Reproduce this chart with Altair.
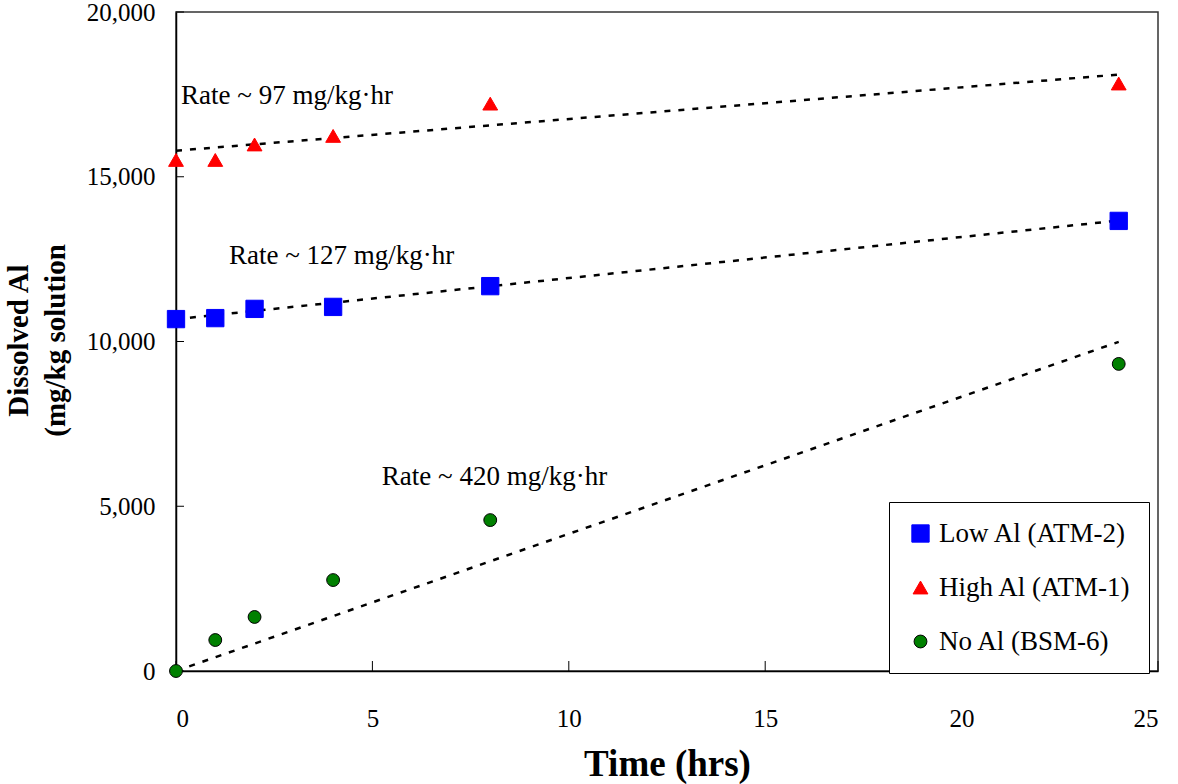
import altair as alt
import pandas as pd

# ---- data ----
hours = [0, 1, 2, 4, 8, 24]
low_al = [10680, 10710, 10990, 11050, 11680, 13660]
high_al = [15510, 15510, 15980, 16240, 17220, 17830]
no_al = [0, 940, 1640, 2760, 4580, 9320]

series_names = ["Low Al (ATM-2)", "High Al (ATM-1)", "No Al (BSM-6)"]
series_colors = ["#0000FF", "#FF0000", "#008000"]
series_strokes = ["#0000FF", "#FF0000", "#000000"]
series_shapes = ["square", "triangle-up", "circle"]
series_sizes = [300, 220, 165]

trend_x = [0, 24]
trend_low = [10680, 13670]
trend_high = [15790, 18100]
trend_no = [0, 9990]

ann_text = ["Rate ~ 97 mg/kg·hr", "Rate ~ 127 mg/kg·hr", "Rate ~ 420 mg/kg·hr"]
ann_x = [0.13, 1.35, 5.24]
ann_y = [17450, 12600, 5890]

x_ticks = [0, 5, 10, 15, 20, 25]
y_ticks = [0, 5000, 10000, 15000, 20000]

FONT = "Liberation Serif"
W, H = 982, 659

# ---- tables ----
pts = pd.DataFrame({
    "hours": hours * 3,
    "al": low_al + high_al + no_al,
    "series": [series_names[0]] * 6 + [series_names[1]] * 6 + [series_names[2]] * 6,
})
trend = pd.DataFrame({
    "hours": trend_x * 3,
    "al": trend_low + trend_high + trend_no,
    "series": [series_names[0]] * 2 + [series_names[1]] * 2 + [series_names[2]] * 2,
})
ann = pd.DataFrame({"hours": ann_x, "al": ann_y, "text": ann_text})
xt = pd.DataFrame({"hours": x_ticks})
yt = pd.DataFrame({"al": y_ticks})

xscale = alt.Scale(domain=[0, 25], nice=False, zero=False)
yscale = alt.Scale(domain=[0, 20000], nice=False)

x_axis = alt.Axis(
    title="Time (hrs)", values=x_ticks, ticks=False, grid=False,
    labelExpr="format(datum.value, 'd')",
    labelFontSize=25, labelPadding=35, labelFont=FONT, labelColor="black",
    titleFont=FONT, titleFontSize=37, titleFontWeight="bold", titleColor="black",
    titleBaseline="alphabetic", titleY=104,
    domainColor="black", domainWidth=1.5,
)
y_axis = alt.Axis(
    title=["Dissolved Al", "(mg/kg solution"], values=y_ticks,
    labelExpr="format(datum.value, ',')",
    ticks=False, grid=False,
    labelFontSize=25, labelPadding=21, labelFont=FONT, labelColor="black",
    titleFont=FONT, titleFontSize=29, titleFontWeight="bold", titleColor="black",
    titleAngle=-90, titleAlign="center", titleBaseline="middle",
    titleLineHeight=37, titleX=-158, titleY=328,
    domainColor="black", domainWidth=1.5,
)


def X():
    return alt.X("hours:Q", scale=xscale, axis=x_axis, title="Time (hrs)")


def Y():
    return alt.Y("al:Q", scale=yscale, axis=y_axis, title=["Dissolved Al", "(mg/kg solution"])


lines = alt.Chart(trend).mark_line(
    color="black", strokeDash=[6, 8], strokeWidth=2.5
).encode(x=X(), y=Y(), detail="series:N")

points = alt.Chart(pts).mark_point(filled=True, opacity=1, strokeWidth=1).encode(
    x=X(), y=Y(),
    color=alt.Color("series:N", scale=alt.Scale(domain=series_names, range=series_colors),
                    legend=alt.Legend(
                        title=None, orient="none", legendX=713, legendY=490,
                        labelFont=FONT, labelFontSize=27, labelColor="black",
                        strokeColor="black", fillColor="white", padding=18,
                        rowPadding=26, labelOffset=5, symbolStrokeWidth=1,
                        labelLimit=400,
                    )),
    shape=alt.Shape("series:N", scale=alt.Scale(domain=series_names, range=series_shapes)),
    stroke=alt.Stroke("series:N", scale=alt.Scale(domain=series_names, range=series_strokes)),
    size=alt.Size("series:N", scale=alt.Scale(type="ordinal", domain=series_names, range=series_sizes)),
)

texts = alt.Chart(ann).mark_text(
    align="left", baseline="middle", font=FONT, fontSize=27, color="black"
).encode(x=X(), y=Y(), text="text:N")

xtick_marks = alt.Chart(xt).mark_rule(color="black", strokeWidth=1).encode(
    x=X(), y=alt.value(H - 10), y2=alt.value(H)
)
ytick_marks = alt.Chart(yt).mark_rule(color="black", strokeWidth=1).encode(
    y=Y(), x=alt.value(0), x2=alt.value(8)
)

chart = alt.layer(lines, xtick_marks, ytick_marks, texts, points).properties(
    width=W, height=H,
    autosize=alt.AutoSizeParams(type="none"),
    padding={"left": 176, "top": 12, "right": 20, "bottom": 113},
).configure(font=FONT).configure_view(
    stroke="#333333", strokeWidth=1.5
).configure_axis(
    labelFont=FONT, titleFont=FONT
).configure_legend(
    labelFont=FONT, titleFont=FONT
).configure_text(font=FONT)

chart.save("out.html", embed_options={"renderer": "svg", "actions": False})
